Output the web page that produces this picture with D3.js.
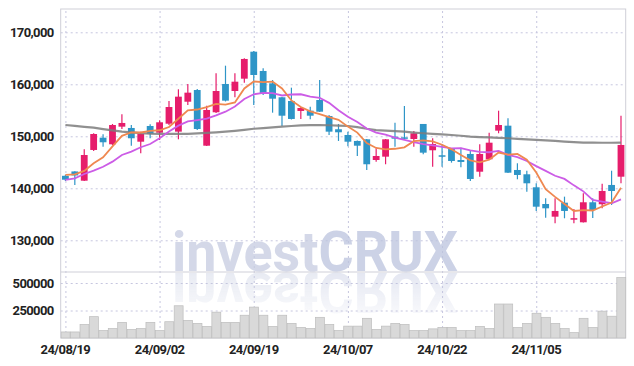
<!DOCTYPE html>
<html><head><meta charset="utf-8">
<script src="https://cdn.jsdelivr.net/npm/d3@7"></script>
<style>body{margin:0;background:#fff}svg{display:block}text{font-family:Roboto,'Noto Sans',sans-serif}</style>
</head><body><svg id="c" width="634" height="366"></svg>
<script>
const dates = ['24/08/19','24/08/20','24/08/21','24/08/22','24/08/23','24/08/26','24/08/27','24/08/28','24/08/29','24/08/30',
 '24/09/02','24/09/03','24/09/04','24/09/05','24/09/06','24/09/09','24/09/10','24/09/11','24/09/12','24/09/13',
 '24/09/19','24/09/20','24/09/23','24/09/24','24/09/25','24/09/26','24/09/27','24/09/30','24/10/02','24/10/04',
 '24/10/07','24/10/08','24/10/10','24/10/11','24/10/14','24/10/15','24/10/16','24/10/17','24/10/18','24/10/21',
 '24/10/22','24/10/23','24/10/24','24/10/25','24/10/28','24/10/29','24/10/30','24/10/31','24/11/01','24/11/04',
 '24/11/05','24/11/06','24/11/07','24/11/08','24/11/11','24/11/12','24/11/13','24/11/14','24/11/15','24/11/18'];
const open  = [142400,143240,141460,147370,149730,148460,151850,151600,148960,151980,
 150690,152420,150890,156650,158900,148190,154620,160060,158710,161080,
 166270,162560,160190,157500,156790,154870,154930,156980,153900,151350,
 150250,149100,149420,145440,146080,149920,149800,149480,152370,147310,
 146350,147690,145440,146600,143190,145580,151080,152040,143520,142690,
 140190,136980,134540,137230,134190,133460,137310,136930,140640,142230];
const high  = [142600,143300,147500,150580,150390,152370,154230,152170,150890,152310,
 153080,156790,159040,160060,159100,155890,162120,163580,162120,165000,
 166400,163080,160830,157560,159350,155640,155690,160830,154100,152370,
 150890,149190,149480,147690,149480,152620,155830,151020,152370,149620,
 148460,147750,147810,147150,148460,150690,154920,153460,144810,143380,
 140960,138080,138080,138390,136020,139040,138080,140890,143380,153960];
const low   = [141400,140650,141400,147170,148000,148330,151400,148190,146730,149620,
 149290,152170,149420,156020,151210,148140,154480,156700,157500,160310,
 156020,157940,154540,151980,153230,153330,153270,154670,150250,149100,
 148080,146210,143520,145120,144620,148000,149380,148000,146540,144160,
 144160,144930,144040,141400,142230,145440,150580,142940,141730,139350,
 135640,134350,133270,134230,133270,133420,134290,136150,136790,140960];
const close = [141650,142470,146400,150440,148850,152170,152560,149620,150440,150500,
 152690,155630,157620,158390,151400,155060,158710,156850,160500,164870,
 161790,158140,157230,153960,153330,155440,153960,154730,150890,150770,
 148960,148190,144620,146210,149420,149540,149620,150580,146850,148520,
 146270,145250,145060,141790,146600,148770,152170,143000,142560,140960,
 136460,136150,135640,135640,134250,137310,135830,139480,139480,148330];
const volume = [55000,55000,123000,194000,68000,86000,142000,77000,86000,142000,
 68000,148000,293000,160000,133000,105000,235000,142000,142000,207000,
 281000,207000,105000,207000,133000,96000,86000,188000,123000,68000,
 108000,108000,179000,77000,108000,133000,123000,68000,68000,83000,
 96000,96000,68000,68000,105000,86000,309000,309000,96000,133000,
 225000,188000,133000,86000,49000,179000,96000,244000,198000,549000];
const ma5 = [142560,142690,143330,144810,145960,148070,150080,150730,150730,151060,
 151160,151780,153380,154970,155150,155620,156240,156080,156500,159200,
 160540,160430,160510,159200,156890,155620,154780,154280,153670,153160,
 151860,150710,148690,147750,147480,147600,147880,149070,149200,149020,
 148370,147490,146390,145380,144990,145490,146880,146470,146620,145490,
 143030,139830,138350,136970,135630,135800,135730,136500,137270,140090];
const ma10 = [141600,141920,142750,143390,144150,145120,146400,147040,147890,148510,
 149610,150930,152050,152850,153100,153390,154010,154730,155740,157170,
 158080,158330,158290,157850,158040,158080,157610,157400,156430,155020,
 153740,152750,151490,150710,150320,149730,149300,148880,148480,148250,
 147980,147690,147730,147290,147010,146930,147190,146430,146000,145240,
 144260,143350,142410,141800,140560,139410,137780,137430,137120,137860];
const ma60 = [152170,152000,151820,151650,151380,151130,150900,150750,150620,150520,
 150480,150450,150450,150480,150550,150650,150750,150880,151050,151250,
 151450,151580,151720,151850,151980,152080,152150,152150,152120,152050,
 151980,151750,151450,151200,151080,150980,150880,150720,150580,150450,
 150350,150250,150100,149950,149850,149780,149700,149620,149500,149400,
 149300,149200,149100,148980,148880,148800,148770,148760,148760,148770];
const priceTicks = [130000,140000,150000,160000,170000];
const volumeTicks = [250000,500000];
const dateTicks = ['24/08/19','24/09/02','24/09/19','24/10/07','24/10/22','24/11/05'];

const svg = d3.select('#c');
const L = 60.7, R = 625.7, T = 9, MID = 272, B = 338;
const x = d3.scaleBand().domain(dates).range([L, R]);
const cx = d => x(d) + x.bandwidth() / 2;
const y = d3.scaleLinear().domain([123900, 174480]).range([MID, T]);
const yv = d3.scaleLinear().domain([0, 600000]).range([B, MID]);
const gridColor = '#c6c6df';

// grids + axes
const gy = svg.append('g').attr('transform', `translate(${L},0)`)
  .call(d3.axisLeft(y).tickValues(priceTicks).tickSize(-(R - L)).tickPadding(7).tickFormat(d3.format(',')));
const gv = svg.append('g').attr('transform', `translate(${L},0)`)
  .call(d3.axisLeft(yv).tickValues(volumeTicks).tickSize(-(R - L)).tickPadding(7).tickFormat(d3.format('d')));
const gx = svg.append('g').attr('transform', `translate(0,${B})`)
  .call(d3.axisBottom(x).tickValues(dateTicks).tickSize(-(B - T)).tickPadding(7));
[gy, gv, gx].forEach(g => {
  g.select('.domain').remove();
  g.selectAll('line').attr('stroke', gridColor).attr('stroke-dasharray', '2,3').attr('stroke-width', 1);
  g.selectAll('text').attr('fill', '#222').attr('font-size', 13).attr('font-weight', 700).attr('letter-spacing', '-0.6px');
});
gx.selectAll('line').attr('transform', 'translate(0.5,0)');

// frame
svg.append('rect').attr('x', L).attr('y', T).attr('width', R - L).attr('height', B - T)
  .attr('fill', 'none').attr('stroke', '#cfcfd8').attr('stroke-width', 1);
svg.append('line').attr('x1', L).attr('x2', R).attr('y1', MID).attr('y2', MID).attr('stroke', '#cfcfd8');

// watermark
const defs = svg.append('defs');
const lg = defs.append('linearGradient').attr('id', 'fade').attr('x1', 0).attr('x2', 0).attr('y1', 0).attr('y2', 1);
lg.append('stop').attr('offset', '0').attr('stop-color', '#fff').attr('stop-opacity', 0.9);
lg.append('stop').attr('offset', '1').attr('stop-color', '#fff').attr('stop-opacity', 0.1);
defs.append('mask').attr('id', 'm').append('rect').attr('x', 0).attr('y', MID).attr('width', 634).attr('height', 50).attr('fill', 'url(#fade)');
function mark(g) {
  const t = g.append('text').attr('x', 172).attr('y', 271).attr('font-size', 55).attr('font-weight', 700)
    .attr('textLength', 286).attr('lengthAdjust', 'spacingAndGlyphs');
  t.append('tspan').text('invest').attr('fill', '#c6cce1');
  t.append('tspan').text('CRUX').attr('fill', '#bcc4de');
}
mark(svg.append('g').attr('opacity', 0.75));
mark(svg.append('g').attr('mask', 'url(#m)').append('g').attr('opacity', 0.45).attr('transform', `translate(0,${2 * MID}) scale(1,-1)`));

// volume bars
svg.append('g').selectAll('rect').data(dates).join('rect')
  .attr('x', d => x(d) + 0.5).attr('width', x.bandwidth() - 0.5)
  .attr('y', (d, i) => yv(volume[i])).attr('height', (d, i) => B - yv(volume[i]))
  .attr('fill', '#d9d9d9').attr('stroke', '#bdbdbd').attr('stroke-width', 0.7);

// candles
const up = '#e61d6b', down = '#2e95c7';
const cg = svg.append('g');
dates.forEach((d, i) => {
  const col = close[i] >= open[i] ? up : down;
  cg.append('line').attr('x1', cx(d)).attr('x2', cx(d)).attr('y1', y(high[i])).attr('y2', y(low[i]))
    .attr('stroke', col).attr('stroke-width', 1.2);
  const top = y(Math.max(open[i], close[i])), bot = y(Math.min(open[i], close[i]));
  cg.append('rect').attr('x', cx(d) - 3.4).attr('width', 6.8).attr('y', top).attr('height', Math.max(1.5, bot - top))
    .attr('fill', col);
});

// moving averages
const line = arr => d3.line().x((v, i) => cx(dates[i])).y(v => y(v)).curve(d3.curveLinear)(arr);
svg.append('path').attr('d', line(ma60)).attr('fill', 'none').attr('stroke', '#7d7d7d').attr('stroke-width', 2.2).attr('stroke-opacity', 0.85);
svg.append('path').attr('d', line(ma10)).attr('fill', 'none').attr('stroke', '#cc5ce6').attr('stroke-width', 1.8);
svg.append('path').attr('d', line(ma5)).attr('fill', 'none').attr('stroke', '#ef8850').attr('stroke-width', 1.8);
</script></body></html>
